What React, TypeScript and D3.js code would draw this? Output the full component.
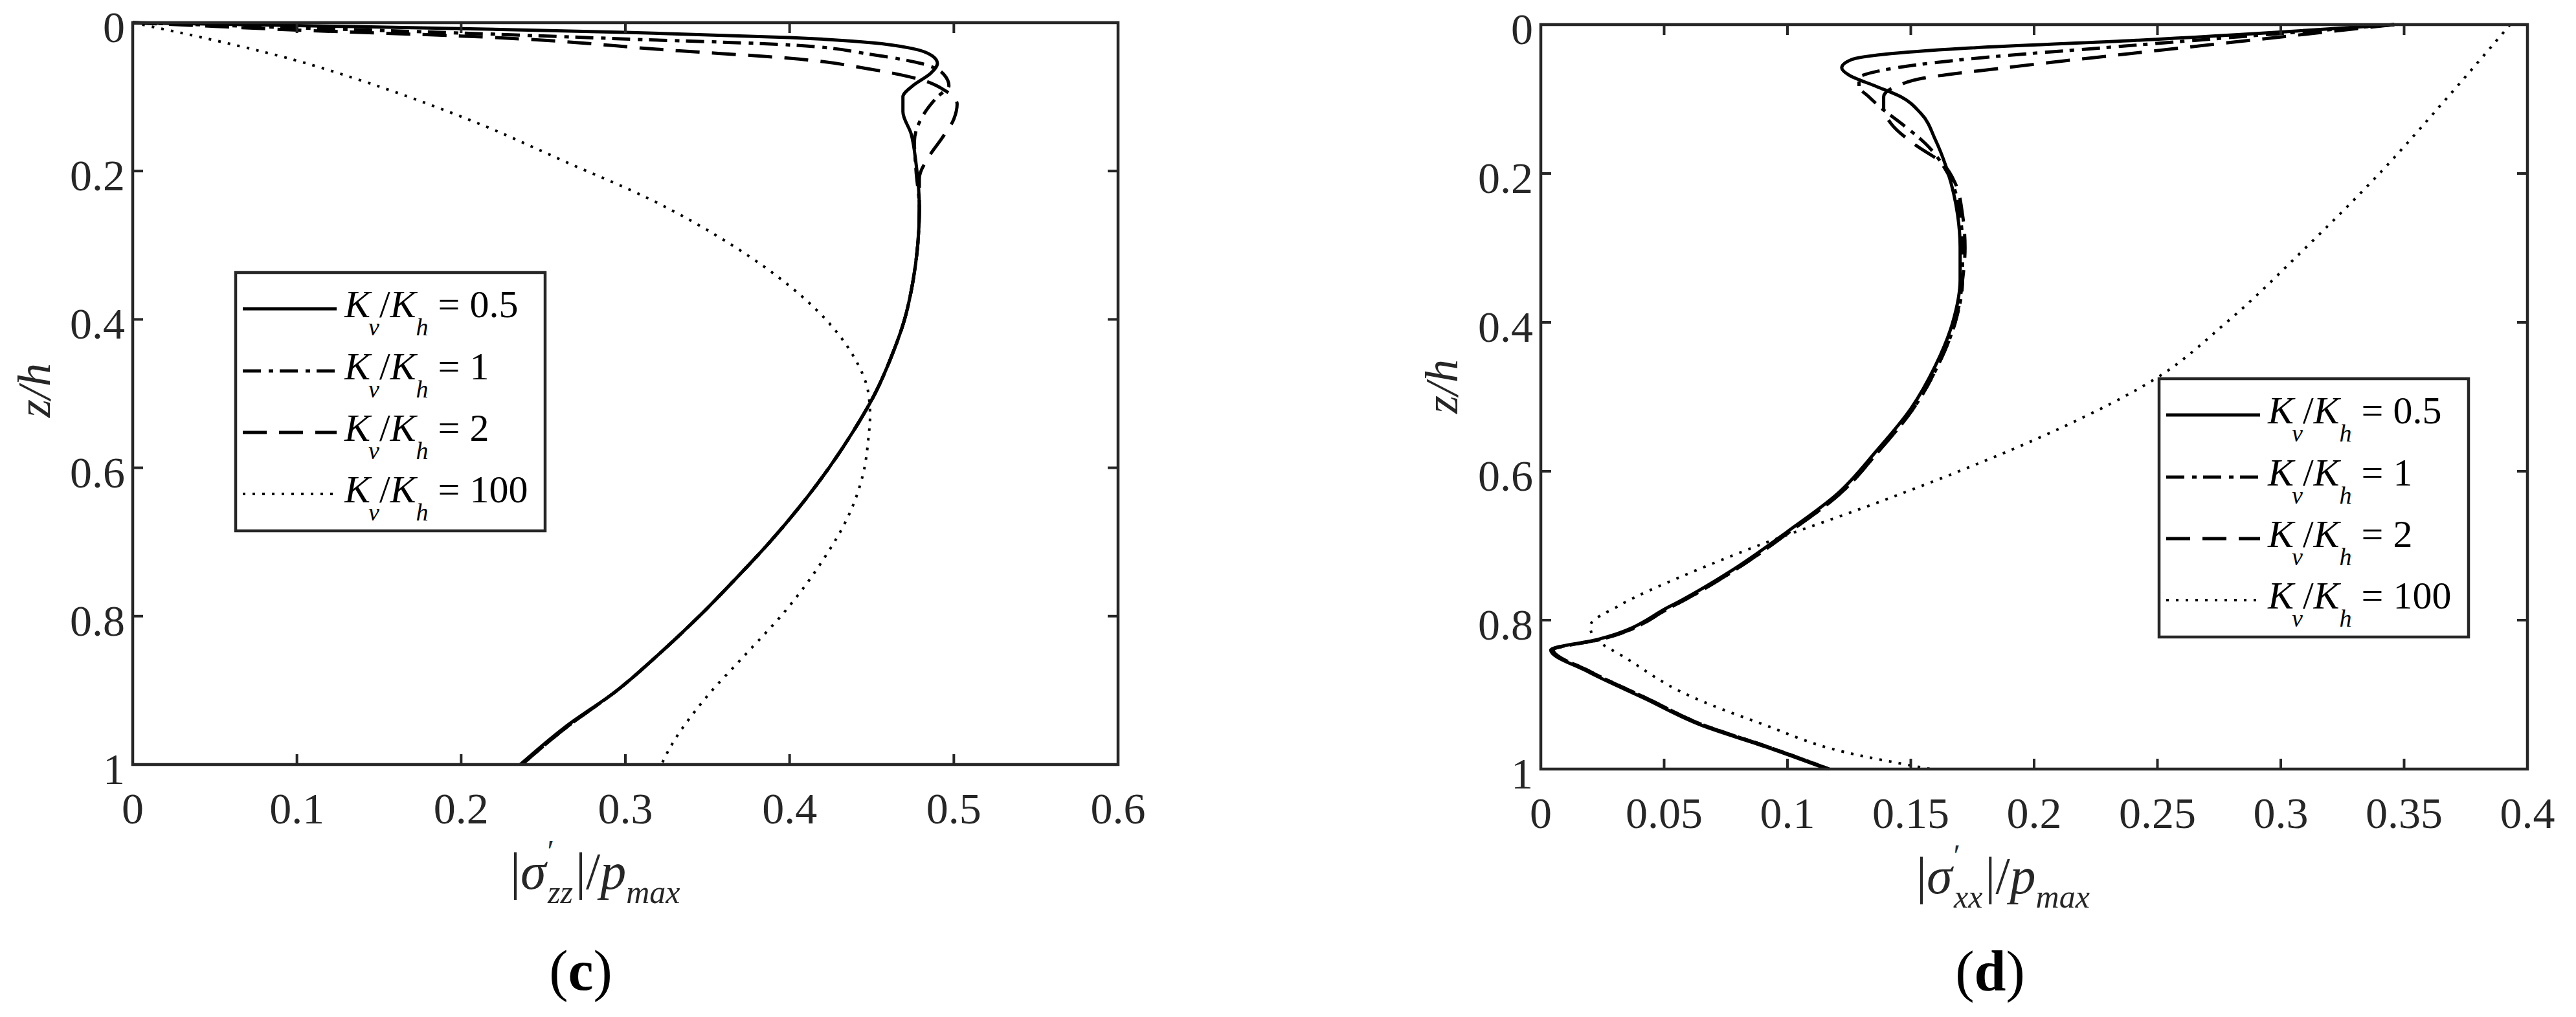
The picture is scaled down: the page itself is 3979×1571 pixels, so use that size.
import React from 'react';
import * as d3 from 'd3';

// tick values
const zTicks = [0, 0.2, 0.4, 0.6, 0.8, 1];
const zTickLabels = ['0', '0.2', '0.4', '0.6', '0.8', '1'];
const xTicksC = [0, 0.1, 0.2, 0.3, 0.4, 0.5, 0.6];
const xTickLabelsC = ['0', '0.1', '0.2', '0.3', '0.4', '0.5', '0.6'];
const xTicksD = [0, 0.05, 0.1, 0.15, 0.2, 0.25, 0.3, 0.35, 0.4];
const xTickLabelsD = ['0', '0.05', '0.1', '0.15', '0.2', '0.25', '0.3', '0.35', '0.4'];

// Kv/Kh ratios in the legend
const ratioLabels = ['0.5', '1', '2', '100'];

// (c) |sigma'_zz|/p_max against z/h
const zC05 = [0, 0.004, 0.008, 0.013, 0.02, 0.027, 0.035, 0.045, 0.055, 0.068, 0.085, 0.1, 0.12, 0.15, 0.19, 0.25, 0.3, 0.35, 0.4, 0.45, 0.5, 0.55, 0.6, 0.65, 0.7, 0.75, 0.8, 0.85, 0.9, 0.95, 1.0];
const sC05 = [0, 0.1, 0.2, 0.3, 0.4, 0.45, 0.475, 0.487, 0.49, 0.486, 0.475, 0.469, 0.469, 0.474, 0.477, 0.479, 0.478, 0.475, 0.47, 0.462, 0.452, 0.439, 0.424, 0.407, 0.388, 0.367, 0.345, 0.321, 0.295, 0.263, 0.236];

const zC1 = [0, 0.007, 0.014, 0.022, 0.03, 0.043, 0.055, 0.07, 0.085, 0.1, 0.13, 0.16, 0.2, 0.25, 0.3, 0.35, 0.4, 0.45, 0.5, 0.55, 0.6, 0.65, 0.7, 0.75, 0.8, 0.85, 0.9, 0.95, 1.0];
const sC1 = [0, 0.1, 0.2, 0.3, 0.4, 0.45, 0.48, 0.494, 0.497, 0.49, 0.48, 0.476, 0.477, 0.479, 0.478, 0.475, 0.47, 0.462, 0.452, 0.439, 0.424, 0.407, 0.388, 0.367, 0.345, 0.321, 0.295, 0.264, 0.237];

const zC2 = [0, 0.005, 0.01, 0.018, 0.038, 0.048, 0.063, 0.077, 0.092, 0.11, 0.13, 0.155, 0.18, 0.21, 0.25, 0.3, 0.35, 0.4, 0.45, 0.5, 0.55, 0.6, 0.65, 0.7, 0.75, 0.8, 0.85, 0.9, 0.95, 1.0];
const sC2 = [0, 0.05, 0.1, 0.2, 0.333, 0.4, 0.45, 0.48, 0.495, 0.502, 0.5, 0.493, 0.485, 0.479, 0.479, 0.478, 0.475, 0.47, 0.462, 0.452, 0.439, 0.424, 0.407, 0.388, 0.367, 0.345, 0.321, 0.295, 0.264, 0.237];

const zC100 = [0, 0.016, 0.03, 0.05, 0.075, 0.1, 0.14, 0.187, 0.238, 0.3, 0.355, 0.4, 0.45, 0.5, 0.53, 0.56, 0.606, 0.664, 0.722, 0.794, 0.852, 0.91, 0.982, 1.0];
const sC100 = [0, 0.034, 0.062, 0.098, 0.135, 0.168, 0.215, 0.263, 0.315, 0.365, 0.4, 0.422, 0.439, 0.448, 0.449, 0.448, 0.445, 0.436, 0.421, 0.397, 0.373, 0.349, 0.326, 0.322];

// (d) |sigma'_xx|/p_max against z/h
const zD05 = [0, 0.022, 0.032, 0.04, 0.047, 0.058, 0.068, 0.083, 0.097, 0.119, 0.155, 0.198, 0.256, 0.299, 0.343, 0.4, 0.458, 0.516, 0.573, 0.631, 0.681, 0.732, 0.782, 0.826, 0.84, 0.869, 0.905, 0.941, 0.97, 1.0];
const sD05 = [0.346, 0.236, 0.171, 0.139, 0.126, 0.122, 0.125, 0.136, 0.146, 0.154, 0.16, 0.165, 0.169, 0.17, 0.17, 0.167, 0.16, 0.15, 0.136, 0.12, 0.1, 0.078, 0.052, 0.023, 0.004, 0.019, 0.042, 0.065, 0.091, 0.116];

const zD1 = [0, 0.029, 0.047, 0.061, 0.072, 0.083, 0.097, 0.112, 0.135, 0.16, 0.2, 0.256, 0.3, 0.343, 0.4, 0.458, 0.516, 0.573, 0.631, 0.681, 0.732, 0.782, 0.826, 0.84, 0.869, 0.905, 0.941, 0.97, 1.0];
const sD1 = [0.346, 0.236, 0.171, 0.139, 0.129, 0.129, 0.133, 0.138, 0.147, 0.156, 0.165, 0.17, 0.171, 0.171, 0.168, 0.161, 0.151, 0.137, 0.121, 0.101, 0.079, 0.053, 0.024, 0.005, 0.02, 0.043, 0.066, 0.092, 0.117];

const zD2 = [0, 0.04, 0.058, 0.072, 0.083, 0.097, 0.112, 0.133, 0.162, 0.184, 0.213, 0.256, 0.3, 0.343, 0.4, 0.458, 0.516, 0.573, 0.631, 0.681, 0.732, 0.782, 0.826, 0.84, 0.869, 0.905, 0.941, 0.97, 1.0];
const sD2 = [0.346, 0.236, 0.188, 0.155, 0.144, 0.139, 0.139, 0.142, 0.152, 0.162, 0.168, 0.171, 0.172, 0.171, 0.168, 0.161, 0.151, 0.137, 0.121, 0.101, 0.079, 0.053, 0.024, 0.005, 0.02, 0.043, 0.066, 0.092, 0.117];

const zD100 = [0, 0.1, 0.2, 0.3, 0.4, 0.476, 0.54, 0.602, 0.65, 0.7, 0.74, 0.78, 0.808, 0.82, 0.854, 0.898, 0.941, 0.977, 1.0];
const sD100 = [0.393, 0.367, 0.34, 0.31, 0.278, 0.249, 0.212, 0.168, 0.13, 0.088, 0.058, 0.032, 0.02, 0.021, 0.036, 0.058, 0.091, 0.123, 0.158];

const FONT = "'Liberation Serif', 'Times New Roman', serif";
const INK = '#262626';

// solid, dash-dot, dashed, dotted
const lineStyles = [
  { dash: undefined, width: 5 },
  { dash: '28 12 7 10', width: 5 },
  { dash: '37 19', width: 5 },
  { dash: '4 11', width: 4 },
];

type Pt = [number, number];
const pair = (s: number[], z: number[]): Pt[] => s.map((v, i) => [v, z[i]]);

function LegendLabel({ x, y, value }: { x: number; y: number; value: string }) {
  return (
    <text x={x} y={y} fontFamily={FONT} fontSize={60} fill="#000">
      <tspan fontStyle="italic">K</tspan>
      <tspan fontStyle="italic" fontSize={38} dx={-3} dy={28}>v</tspan>
      <tspan dy={-28}>/</tspan>
      <tspan fontStyle="italic">K</tspan>
      <tspan fontStyle="italic" fontSize={38} dy={28}>h</tspan>
      <tspan dy={-28}>{'\u00a0= ' + value}</tspan>
    </text>
  );
}

function Panel(props: any) {
  const { left, right, top, bottom, xMax, xTicks, xTickLabels, series, legendX, legendY,
    zLabelX, zLabelY, sub, xLabelX, xLabelY, tag, tagX, tagY } = props;

  const x = d3.scaleLinear().domain([0, xMax]).range([left, right]);
  const y = d3.scaleLinear().domain([0, 1]).range([top, bottom]);
  const line = d3.line<Pt>().x(d => x(d[0])).y(d => y(d[1])).curve(d3.curveMonotoneY);
  const tick = 16;
  const rows = [56, 152, 247, 342];

  return (
    <g>
      {series.map((pts: Pt[], i: number) => (
        <path key={i} d={line(pts) || ''} fill="none" stroke="#000"
          strokeWidth={lineStyles[i].width} strokeDasharray={lineStyles[i].dash} />
      ))}

      <rect x={left} y={top} width={right - left} height={bottom - top} fill="none" stroke={INK} strokeWidth={4.5} />
      {xTicks.map((t: number, i: number) => (
        <g key={'x' + i}>
          <line x1={x(t)} x2={x(t)} y1={bottom} y2={bottom - tick} stroke={INK} strokeWidth={4} />
          <line x1={x(t)} x2={x(t)} y1={top} y2={top + tick} stroke={INK} strokeWidth={4} />
          <text x={x(t)} y={bottom + 91} textAnchor="middle" fontFamily={FONT} fontSize={68} fill={INK}>{xTickLabels[i]}</text>
        </g>
      ))}
      {zTicks.map((t, i) => (
        <g key={'z' + i}>
          <line x1={left} x2={left + tick} y1={y(t)} y2={y(t)} stroke={INK} strokeWidth={4} />
          <line x1={right} x2={right - tick} y1={y(t)} y2={y(t)} stroke={INK} strokeWidth={4} />
          <text x={left - 12} y={y(t) + 30} textAnchor="end" fontFamily={FONT} fontSize={68} fill={INK}>{zTickLabels[i]}</text>
        </g>
      ))}

      <text transform={`translate(${zLabelX},${zLabelY}) rotate(-90)`} textAnchor="middle"
        fontFamily={FONT} fontSize={72} fontStyle="italic" fill={INK}>z/h</text>

      <text x={xLabelX} y={xLabelY} fontFamily={FONT} fontSize={80} fill={INK}>
        <tspan>|</tspan>
        <tspan fontStyle="italic">σ</tspan>
        <tspan fontSize={48} dx={2} dy={-42}>′</tspan>
        <tspan fontStyle="italic" fontSize={50} dx={-10} dy={64}>{sub}</tspan>
        <tspan dx={4} dy={-22}>|</tspan>
        <tspan>/</tspan>
        <tspan fontStyle="italic">p</tspan>
        <tspan fontStyle="italic" fontSize={50} dy={22}>max</tspan>
      </text>

      <text x={tagX} y={tagY} textAnchor="middle" fontFamily={FONT} fontSize={88} fill="#000">
        (<tspan fontWeight="bold">{tag}</tspan>)
      </text>

      <rect x={legendX} y={legendY} width={478} height={399} fill="#fff" stroke={INK} strokeWidth={4.5} />
      {ratioLabels.map((r, i) => (
        <g key={'l' + i}>
          <line x1={legendX + 11} x2={legendX + 156} y1={legendY + rows[i]} y2={legendY + rows[i]}
            stroke="#000" strokeWidth={lineStyles[i].width} strokeDasharray={lineStyles[i].dash} />
          <LegendLabel x={legendX + 168} y={legendY + rows[i] + 13} value={r} />
        </g>
      ))}
    </g>
  );
}

export default function App() {
  const seriesC = [pair(sC05, zC05), pair(sC1, zC1), pair(sC2, zC2), pair(sC100, zC100)];
  const seriesD = [pair(sD05, zD05), pair(sD1, zD1), pair(sD2, zD2), pair(sD100, zD100)];

  return (
    <svg width={3979} height={1571} viewBox="0 0 3979 1571"
      style={{ position: 'absolute', left: 0, top: 0, display: 'block', background: '#fff' }}>
      <rect width={3979} height={1571} fill="#fff" />
      <Panel left={205} right={1727} top={35} bottom={1181} xMax={0.6}
        xTicks={xTicksC} xTickLabels={xTickLabelsC} series={seriesC}
        legendX={364} legendY={421} zLabelX={77} zLabelY={603}
        sub="zz" xLabelX={788} xLabelY={1373} tag="c" tagX={897} tagY={1529} />
      <Panel left={2380} right={3904} top={38} bottom={1188} xMax={0.4}
        xTicks={xTicksD} xTickLabels={xTickLabelsD} series={seriesD}
        legendX={3335} legendY={585} zLabelX={2251} zLabelY={597}
        sub="xx" xLabelX={2960} xLabelY={1380} tag="d" tagX={3074} tagY={1530} />
    </svg>
  );
}
